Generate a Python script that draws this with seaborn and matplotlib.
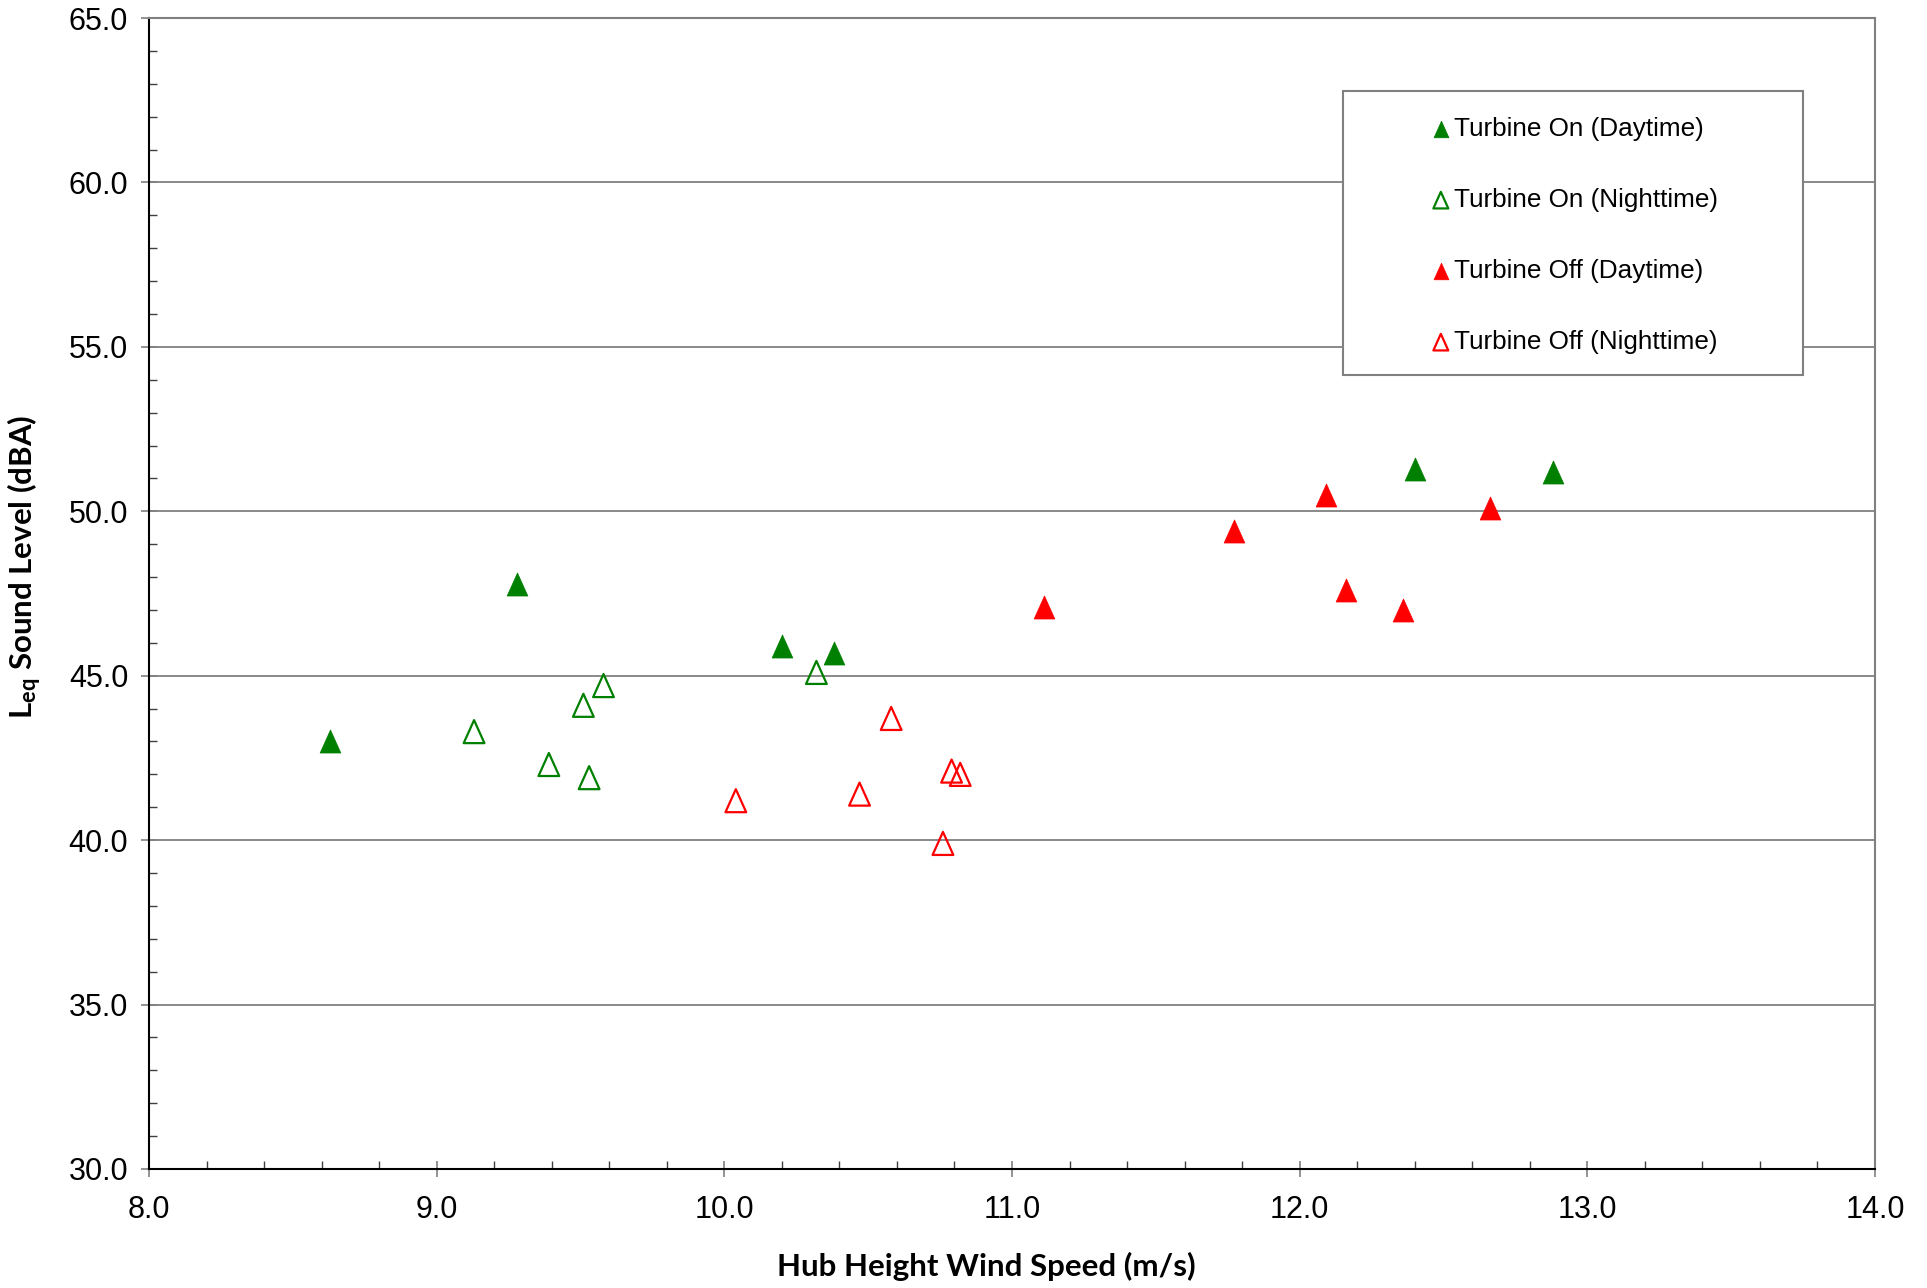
import numpy as np
import pandas as pd
import matplotlib
matplotlib.use("Agg")
import matplotlib.pyplot as plt
from matplotlib.patches import Rectangle
from matplotlib.path import Path
from matplotlib.ticker import MultipleLocator, FormatStrFormatter
import seaborn as sns

# ---- data ----
on_day_x = [8.63, 9.28, 10.20, 10.38, 12.40, 12.88]
on_day_y = [43.0, 47.8, 45.9, 45.7, 51.3, 51.2]

on_night_x = [9.13, 9.39, 9.51, 9.53, 9.58, 10.32]
on_night_y = [43.3, 42.3, 44.1, 41.9, 44.7, 45.1]

off_day_x = [11.11, 11.77, 12.09, 12.16, 12.36, 12.66]
off_day_y = [47.1, 49.4, 50.5, 47.6, 47.0, 50.1]

off_night_x = [10.04, 10.47, 10.58, 10.79, 10.82, 10.76]
off_night_y = [41.2, 41.4, 43.7, 42.1, 42.0, 39.9]

labels = ["Turbine On (Daytime)", "Turbine On (Nighttime)",
          "Turbine Off (Daytime)", "Turbine Off (Nighttime)"]

GREEN = "#008000"
RED = "#FF0000"

sns.set_style("white")
plt.rcParams["font.family"] = ["Liberation Sans", "DejaVu Sans"]
plt.rcParams["mathtext.default"] = "regular"
plt.rcParams["text.color"] = "black"
plt.rcParams["axes.labelcolor"] = "black"

fig = plt.figure(figsize=(19.27, 12.88), dpi=100)
ax = fig.add_axes([149/1927, 1 - 1169/1288, (1875-149)/1927, (1169-18)/1288])

tri = Path([(0, 1), (-0.9, -1), (0.9, -1), (0, 1)],
           [Path.MOVETO, Path.LINETO, Path.LINETO, Path.CLOSEPOLY])
S = 275

sns.scatterplot(x=on_day_x, y=on_day_y, ax=ax, marker=tri, s=S, color=GREEN,
                edgecolor=GREEN, linewidth=0.5, label=labels[0], zorder=3)
sns.scatterplot(x=on_night_x, y=on_night_y, ax=ax, marker=tri, s=S,
                facecolor="none", edgecolor=GREEN, linewidth=1.6, label=labels[1], zorder=3)
sns.scatterplot(x=off_day_x, y=off_day_y, ax=ax, marker=tri, s=S, color=RED,
                edgecolor=RED, linewidth=0.5, label=labels[2], zorder=3)
sns.scatterplot(x=off_night_x, y=off_night_y, ax=ax, marker=tri, s=S,
                facecolor="none", edgecolor=RED, linewidth=1.6, label=labels[3], zorder=3)

ax.set_xlim(8.0, 14.0)
ax.set_ylim(30.0, 65.0)
ax.xaxis.set_major_locator(MultipleLocator(1.0))
ax.xaxis.set_minor_locator(MultipleLocator(0.2))
ax.yaxis.set_major_locator(MultipleLocator(5.0))
ax.yaxis.set_minor_locator(MultipleLocator(1.0))
ax.xaxis.set_major_formatter(FormatStrFormatter("%.1f"))
ax.yaxis.set_major_formatter(FormatStrFormatter("%.1f"))

ax.grid(axis="y", which="major", color="#808080", linewidth=1.3, zorder=1)
ax.grid(axis="x", visible=False)
ax.set_axisbelow(True)

ax.tick_params(axis="both", which="major", direction="inout", length=12,
               width=1.2, color="#808080", labelsize=22, pad=9,
               labelcolor="black", bottom=True, left=True)
ax.tick_params(axis="both", which="minor", direction="in", length=6,
               width=1.0, color="#404040", bottom=True, left=True)
ax.tick_params(axis="x", which="major", pad=13)

for side in ["left", "bottom"]:
    ax.spines[side].set_color("black")
    ax.spines[side].set_linewidth(1.5)
for side in ["top", "right"]:
    ax.spines[side].set_color("#808080")
    ax.spines[side].set_linewidth(1.5)

ax.set_xlabel("Hub Height Wind Speed (m/s)", fontsize=22.5, fontweight="bold",
              family=["Lato", "DejaVu Sans"], color="black")
ax.set_ylabel("$L_{eq}$ Sound Level (dBA)", fontsize=22.5, fontweight="bold",
              family=["Lato", "DejaVu Sans"], color="black")
ax.xaxis.set_label_coords(0.485, -0.072)
ax.yaxis.set_label_coords(-0.061, 0.523)

# legend box
x0 = (1343-149)/1726
x1 = (1803-149)/1726
y0 = (1169-375)/1151
y1 = (1169-91)/1151
ax.add_patch(Rectangle((x0, y0), x1-x0, y1-y0, transform=ax.transAxes,
                       facecolor="white", edgecolor="#808080", linewidth=1.5, zorder=4))

leg = ax.legend(loc="upper left", bbox_to_anchor=(1433/1927, 1 - 117/1288),
                bbox_transform=fig.transFigure, frameon=False, fontsize=18.8,
                markerscale=0.72, handlelength=0.6, handletextpad=0.2,
                labelspacing=1.8, borderpad=0, borderaxespad=0)
for t in leg.get_texts():
    t.set_color("black")
leg.set_zorder(5)

fig.savefig("out.png", dpi=100)
